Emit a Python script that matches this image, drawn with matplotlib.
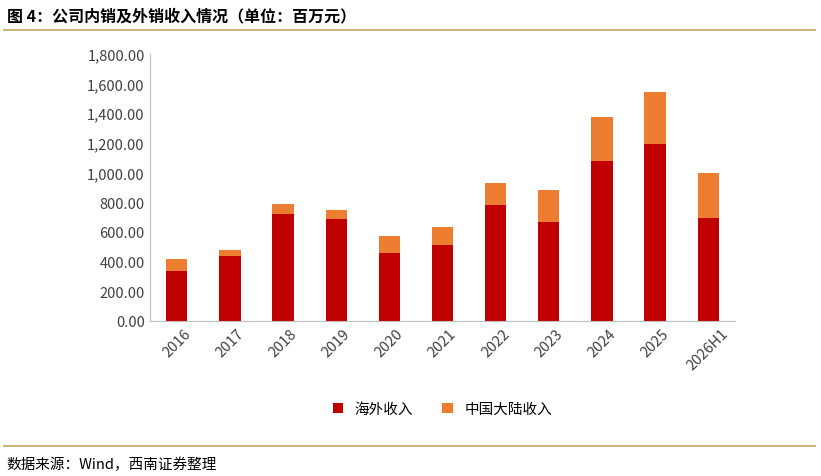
import matplotlib.pyplot as plt
import numpy as np
plt.rcParams['font.family'] = ['Noto Sans CJK SC', 'DejaVu Sans']

years = ['2016','2017','2018','2019','2020','2021','2022','2023','2024','2025','2026H1']
overseas = [340, 435, 720, 685, 460, 515, 780, 670, 1075, 1190, 695]
domestic = [75, 45, 70, 60, 110, 120, 150, 210, 300, 355, 300]

fig = plt.figure(figsize=(8.21, 4.77), dpi=100)
ax = fig.add_axes([0.183, 0.325, 0.712, 0.56])
x = np.arange(len(years))
ax.bar(x, overseas, width=0.4, color='#C00000', label='海外收入')
ax.bar(x, domestic, width=0.4, bottom=overseas, color='#ED7D31', label='中国大陆收入')
ax.set_ylim(0, 1800)
ax.set_yticks(range(0, 1801, 200))
ax.set_yticklabels([f'{v:,.2f}' for v in range(0, 1801, 200)], fontsize=10.5, color='#404040')
ax.set_xlim(-0.5, len(years)-0.5)
ax.set_xticks(x)
ax.set_xticklabels(years, rotation=45, fontsize=10.5, color='#404040')
for s in ['top', 'right']:
    ax.spines[s].set_visible(False)
for s in ['left', 'bottom']:
    ax.spines[s].set_color('#BFBFBF')
ax.tick_params(length=0)
ax.tick_params(axis='y', pad=4)
ax.legend(loc='center', bbox_to_anchor=(0.5, -0.33), ncol=2, frameon=False, fontsize=10.5,
          handlelength=0.7, handleheight=0.7, columnspacing=2)

fig.text(0.008, 0.965, '图 4：公司内销及外销收入情况（单位：百万元）', fontsize=11.5, fontweight='bold', va='center')
fig.add_artist(plt.Line2D([0.005, 0.993], [0.935, 0.935], color='#C9A45C', lw=1.2))
fig.add_artist(plt.Line2D([0.005, 0.993], [0.063, 0.063], color='#C9A45C', lw=1.2))
fig.text(0.008, 0.025, '数据来源：Wind，西南证券整理', fontsize=10.5, style='italic', va='center')
fig.savefig('out.png', dpi=100)
